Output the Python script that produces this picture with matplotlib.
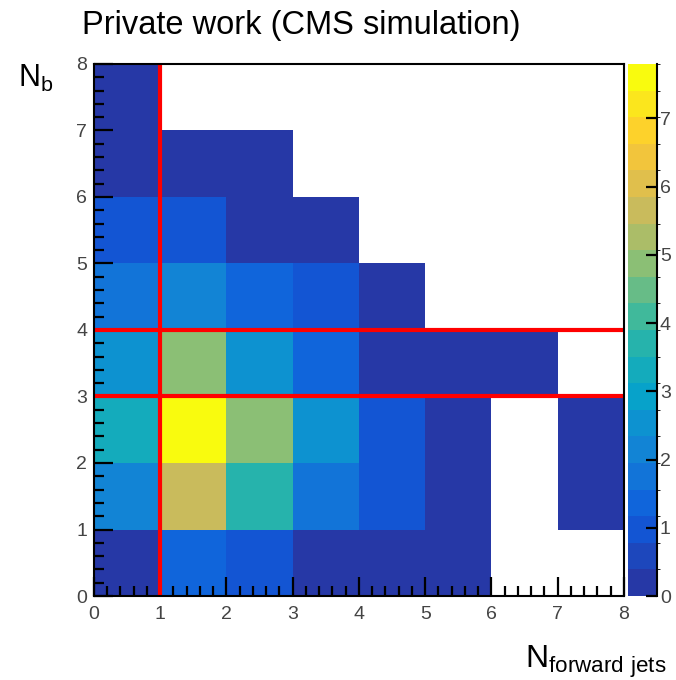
import matplotlib
matplotlib.use("Agg")
import matplotlib.pyplot as plt
import numpy as np
from matplotlib.colors import LinearSegmentedColormap, BoundaryNorm

plt.rcParams['font.family'] = ['Liberation Sans', 'DejaVu Sans']
plt.rcParams['mathtext.fontset'] = 'custom'
plt.rcParams['mathtext.rm'] = 'Liberation Sans'

# bin edges (N forward jets on x, N b on y)
x_edges = [0, 1, 2, 3, 4, 5, 6, 7, 8]
y_edges = [0, 1, 2, 3, 4, 5, 6, 7, 8]

# bin contents, one row per N_b bin (0 = empty, not drawn)
row_b0 = [0.2, 1.2, 0.9, 0.2, 0.2, 0.2, 0.0, 0.0]
row_b1 = [2.3, 5.8, 3.7, 1.9, 1.1, 0.2, 0.0, 0.2]
row_b2 = [3.3, 7.7, 4.8, 2.4, 1.1, 0.2, 0.0, 0.2]
row_b3 = [2.7, 4.8, 2.7, 1.5, 0.2, 0.2, 0.2, 0.0]
row_b4 = [1.7, 2.0, 1.5, 0.9, 0.2, 0.0, 0.0, 0.0]
row_b5 = [0.9, 0.9, 0.2, 0.2, 0.0, 0.0, 0.0, 0.0]
row_b6 = [0.2, 0.2, 0.2, 0.0, 0.0, 0.0, 0.0, 0.0]
row_b7 = [0.2, 0.0, 0.0, 0.0, 0.0, 0.0, 0.0, 0.0]

z_max = 7.8
n_levels = 20

# ROOT kBird-like palette (low end a bit bluer, as in the picture)
bird_r = [0.1500, 0.0592, 0.0780, 0.0232, 0.1802, 0.5301, 0.8186, 0.9956, 0.9764]
bird_g = [0.2200, 0.3599, 0.5041, 0.6419, 0.7178, 0.7492, 0.7328, 0.7862, 0.9832]
bird_b = [0.6500, 0.8684, 0.8385, 0.7914, 0.6425, 0.4662, 0.3499, 0.1968, 0.0539]
bird = LinearSegmentedColormap.from_list('bird', list(zip(bird_r, bird_g, bird_b)))
cmap = matplotlib.colors.ListedColormap(bird(np.linspace(0, 1, n_levels)))
cmap.set_bad('white')
norm = BoundaryNorm(np.linspace(0, z_max, n_levels + 1), n_levels)

z = np.array([row_b0, row_b1, row_b2, row_b3, row_b4, row_b5, row_b6, row_b7])
z = np.ma.masked_where(z <= 0, z)

fig = plt.figure(figsize=(6.76, 6.80), dpi=100)
ax = fig.add_axes([0.139, 0.1235, 0.784, 0.7825])
cax = fig.add_axes([0.929, 0.1235, 0.043, 0.7825])

mesh = ax.pcolormesh(x_edges, y_edges, z, cmap=cmap, norm=norm)

# red selection lines
ax.plot([1, 1], [0, 8], color='#ff0000', lw=3)
ax.plot([0, 8], [3, 3], color='#ff0000', lw=3)
ax.plot([0, 8], [4, 4], color='#ff0000', lw=3)

ax.set_xlim(0, 8)
ax.set_ylim(0, 8)
ax.set_xticks(range(9))
ax.set_yticks(range(9))
ax.set_xticks(np.arange(0, 8.01, 0.2), minor=True)
ax.set_yticks(np.arange(0, 8.01, 0.2), minor=True)
ax.tick_params(which='major', direction='in', length=14, width=1.6, labelsize=14,
               labelcolor='#444444', top=False, right=False)
ax.tick_params(axis='x', which='major', pad=7)
ax.tick_params(axis='y', which='major', pad=5)
ax.tick_params(which='minor', direction='in', length=7, width=1.6, top=False, right=False)
for s in ax.spines.values():
    s.set_linewidth(1.5)

cb = fig.colorbar(mesh, cax=cax, ticks=range(8))
cb.outline.set_visible(False)
cax.spines['right'].set_visible(True)
cax.spines['right'].set_linewidth(1.5)
cax.tick_params(direction='in', length=8, width=1.6, labelsize=14,
                labelcolor='#444444', pad=2)
cax.set_ylim(0, z_max)

fig.text(0.121, 0.962, 'Private work (CMS simulation)', fontsize=23.5, va='center', ha='left')
fig.text(0.026, 0.885, r'N$_\mathrm{b}$', fontsize=22, va='center', ha='left')
fig.text(0.776, 0.027, r'N$_\mathrm{forward\ jets}$', fontsize=23, va='center', ha='left')

fig.savefig('out.png', dpi=100)
